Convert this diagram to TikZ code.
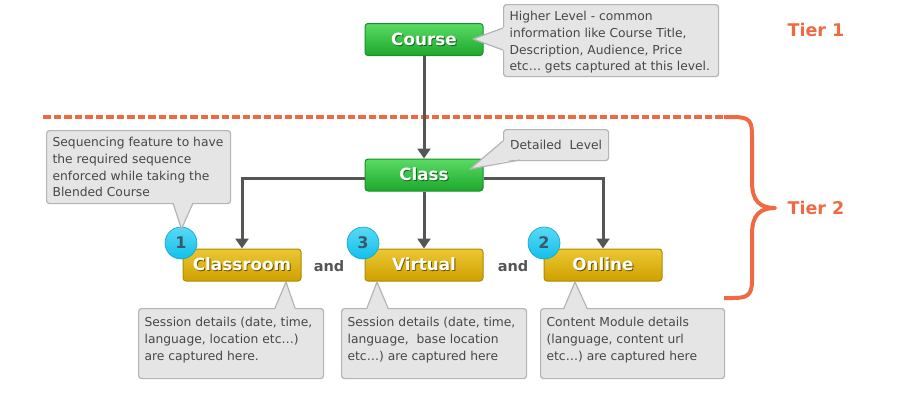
\documentclass[tikz,border=0pt]{standalone}
\usepackage{fontspec}
\setmainfont{DejaVu Sans}
\usetikzlibrary{arrows.meta}

\definecolor{cfill}{HTML}{E5E5E5}
\definecolor{cdraw}{HTML}{B4B4B4}
\definecolor{ctext}{HTML}{474747}
\definecolor{gtop}{HTML}{5ADB64}
\definecolor{gbot}{HTML}{1CA82C}
\definecolor{gedge}{HTML}{17922A}
\definecolor{ytop}{HTML}{EBC834}
\definecolor{ybot}{HTML}{CFA000}
\definecolor{yedge}{HTML}{B08A00}
\definecolor{ctop}{HTML}{58DAF6}
\definecolor{cbot}{HTML}{12BFEA}
\definecolor{numtext}{HTML}{3A5868}
\definecolor{linkgray}{HTML}{555555}
\definecolor{tier}{HTML}{EF6A43}

% white label with a soft offset shadow
\newcommand\btnlabel[2]{\makebox[0pt][l]{\hspace{0.9pt}\raisebox{-0.9pt}{\textcolor{#1}{#2}}}#2}
% top-aligned text block inside a callout
\newcommand\calltext[3]{\parbox[t][#2][t]{#1}{#3}}

\tikzset{
  btn/.style={rounded corners=3pt, line width=1pt, minimum width=118pt,
    minimum height=32pt, inner sep=0pt, text=white,
    font=\fontsize{16.8}{18}\selectfont\bfseries},
  greenbtn/.style={btn, draw=gedge, top color=gtop, bottom color=gbot},
  yellowbtn/.style={btn, draw=yedge, top color=ytop, bottom color=ybot},
  callbox/.style={draw=cdraw, fill=cfill, line width=1.2pt, rounded corners=3pt,
    anchor=north west, inner xsep=6pt, inner ysep=7pt, text=ctext,
    font=\fontsize{12.3}{16.6}\selectfont},
  ptrfill/.style={fill=cfill},
  ptrline/.style={draw=cdraw, line width=1.2pt, line join=round},
  conn/.style={draw=linkgray, line width=3pt,
    -{Triangle[width=13pt,length=10pt]}},
  badge/.style={circle, minimum size=32pt, inner sep=0pt, draw=cbot!85!black,
    line width=0.6pt, top color=ctop, bottom color=cbot, text=numtext,
    font=\fontsize{16}{18}\selectfont\bfseries},
  andtext/.style={text=linkgray, font=\fontsize{14.5}{16}\selectfont\bfseries},
  tierlabel/.style={text=tier, font=\fontsize{17.5}{19}\selectfont\bfseries},
}

\begin{document}
\begin{tikzpicture}[x=1pt,y=-1pt]
\useasboundingbox[fill=white] (0,0) rectangle (900,400);

% tier divider and brace
\draw[tier, line width=4pt, dash pattern=on 7.5pt off 3pt] (43,117) -- (726,117);
\draw[tier, line width=4pt, line join=round]
  (724,117) -- (733,117) .. controls (750,117) and (752,121) .. (752,136)
  -- (752,182) .. controls (752,201) and (760,208) .. (775,208)
  .. controls (760,208) and (752,215) .. (752,234)
  -- (752,281) .. controls (752,296) and (746,298) .. (733,298) -- (724,298);
\node[tierlabel] (tier1) at (816,30) {Tier 1};
\node[tierlabel] (tier2) at (816,208) {Tier 2};

% main boxes
\node[greenbtn] (course) at (424,39.5) {\btnlabel{gedge!70!black}{Course}};
\node[greenbtn] (class) at (424,175) {\btnlabel{gedge!70!black}{Class}};
\node[yellowbtn] (classroom) at (242,265) {\btnlabel{yedge!60!black}{Classroom}};
\node[yellowbtn] (virtual) at (424,265) {\btnlabel{yedge!60!black}{Virtual}};
\node[yellowbtn] (online) at (603,265) {\btnlabel{yedge!60!black}{Online}};

\node[andtext] (and1) at (329,266) {and};
\node[andtext] (and2) at (513,266) {and};

% connectors
\draw[conn] (course.south) -- (class.north);
\draw[conn] ([yshift=-3pt]class.west) -| (classroom.north);
\draw[conn] (class.south) -- (virtual.north);
\draw[conn] ([yshift=-3pt]class.east) -| (online.north);

% sequence badges
\node[badge] (b1) at (181,243) {1};
\node[badge] (b3) at (363,243) {3};
\node[badge] (b2) at (544,243) {2};

% callout: course
\node[callbox, inner ysep=7pt] (ncourse) at (503,4)
  {\calltext{203pt}{58pt}{Higher Level - common\\information like Course Title,\\Description, Audience, Price\\etc\ldots\ gets captured at this level.}};
\fill[ptrfill] (505,27) -- (473,39) -- (505,51) -- cycle;
\draw[ptrline] (503,28) -- (473,39) -- (503,50);

% callout: class
\node[callbox, minimum width=105pt, minimum height=31pt, inner xsep=5pt, inner ysep=0pt]
  (nclass) at (503,129) {Detailed\ \ Level};
\fill[ptrfill] (505,140) -- (470,169) -- (521,158) -- cycle;
\draw[ptrline] (503,141) -- (470,169) -- (520,160);

% callout: sequencing
\node[callbox] (nseq) at (46,130)
  {\calltext{172pt}{59pt}{Sequencing feature to have\\the required sequence\\enforced while taking the\\Blended Course}};
\fill[ptrfill] (173,201) -- (181.5,229) -- (193,201) -- cycle;
\draw[ptrline] (173,203) -- (181.5,229) -- (193,203);

% callouts: delivery details
\node[callbox, inner ysep=9pt] (nclassroom) at (138,308)
  {\calltext{173pt}{52pt}{Session details (date, time,\\language, location etc\ldots)\\are captured here.}};
\fill[ptrfill] (275,310) -- (286,282) -- (295,310) -- cycle;
\draw[ptrline] (275,308) -- (286,282) -- (295,308);

\node[callbox, inner ysep=9pt] (nvirtual) at (341,308)
  {\calltext{173pt}{52pt}{Session details (date, time,\\language,\ \ base location\\etc\ldots) are captured here}};
\fill[ptrfill] (367,310) -- (377,282) -- (388,310) -- cycle;
\draw[ptrline] (367,308) -- (377,282) -- (388,308);

\node[callbox, inner ysep=9pt] (nonline) at (540,308)
  {\calltext{172pt}{52pt}{Content Module details\\(language, content url\\etc\ldots) are captured here}};
\fill[ptrfill] (564,310) -- (575,282) -- (587,310) -- cycle;
\draw[ptrline] (564,308) -- (575,282) -- (587,308);
\end{tikzpicture}
\end{document}
